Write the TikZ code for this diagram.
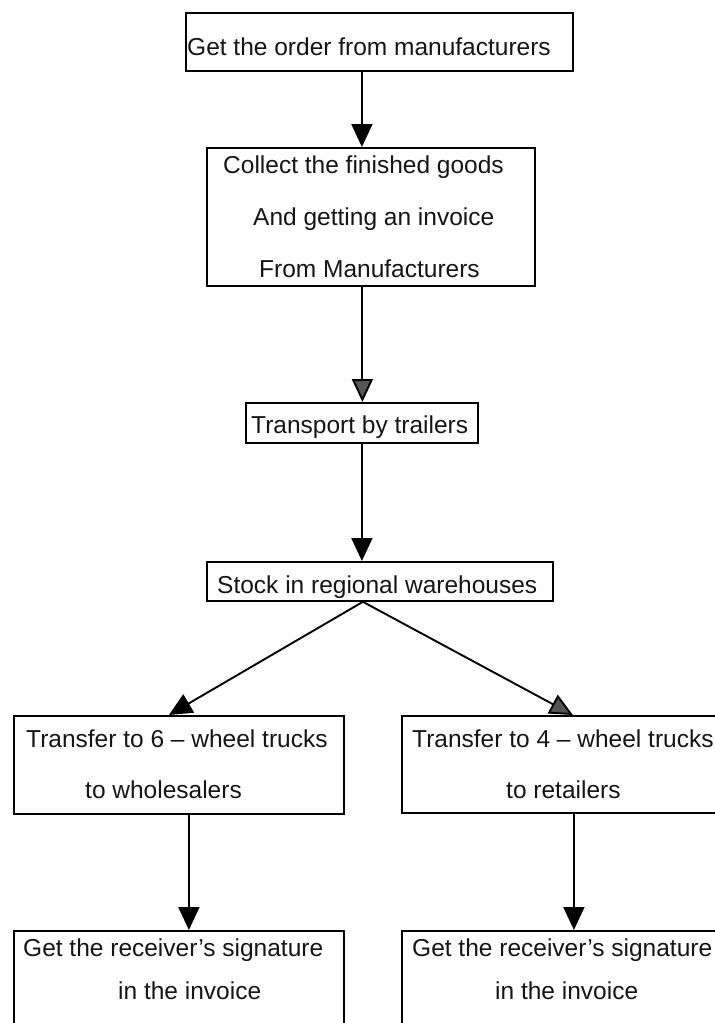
\documentclass[tikz,border=0pt]{standalone}
\usepackage{fontspec}
\setmainfont{Liberation Sans}
\usetikzlibrary{arrows.meta}
\definecolor{ink}{HTML}{151515}
\definecolor{tipgray}{HTML}{555555}
\begin{document}
\begin{tikzpicture}[x=1pt,y=-1pt,
  stepbox/.style={draw=black,line width=1.8pt,anchor=north west,inner sep=0pt,
    minimum width=#1},
  label/.style={anchor=base west,inner sep=0pt,text=ink,
    font=\fontsize{24.5}{29}\selectfont},
  flow/.style={line width=1.9pt,draw=black,
    -{Triangle[length=23pt,width=21pt]}},
  flowgray/.style={line width=1.9pt,draw=black,
    -{Triangle[length=23pt,width=21pt,fill=tipgray]}}]
\useasboundingbox (0,0) rectangle (715,1023);
\clip (0,0) rectangle (715,1023);

% boxes
\node[stepbox=387pt,minimum height=58pt]  (order)    at (185,12)  {};
\node[stepbox=328pt,minimum height=138pt] (collect)  at (206,147) {};
\node[stepbox=232pt,minimum height=40pt]  (trailers) at (245,402) {};
\node[stepbox=346pt,minimum height=39pt]  (stock)    at (206,561) {};
\node[stepbox=330pt,minimum height=98pt]  (six)      at (13,715)  {};
\node[stepbox=340pt,minimum height=97pt]  (four)     at (401,715) {};
\node[stepbox=330pt,minimum height=120pt] (signL)    at (13,930)  {};
\node[stepbox=340pt,minimum height=120pt] (signR)    at (401,930) {};

% texts
\node[label] (t-order)    at (187,55)  {Get the order from manufacturers};
\node[label] (t-collect1) at (223,173) {Collect the finished goods};
\node[label] (t-collect2) at (253,225) {And getting an invoice};
\node[label] (t-collect3) at (259,277) {From Manufacturers};
\node[label] (t-trailers) at (251,433) {Transport by trailers};
\node[label] (t-stock)    at (217,593) {Stock in regional warehouses};
\node[label] (t-six1)     at (26,747)  {Transfer to 6 -- wheel trucks};
\node[label] (t-six2)     at (85,798)  {to wholesalers};
\node[label] (t-four1)    at (412,747) {Transfer to 4 -- wheel trucks};
\node[label] (t-four2)    at (506,798) {to retailers};
\node[label] (t-signL1)   at (23,956)  {Get the receiver’s signature};
\node[label] (t-signL2)   at (118,999) {in the invoice};
\node[label] (t-signR1)   at (412,956) {Get the receiver’s signature};
\node[label] (t-signR2)   at (495,999) {in the invoice};

% connectors
\draw[flow]     ([xshift=-17.5pt]order.south)   -- ([xshift=-9pt]collect.north);
\draw[flowgray] ([xshift=-8.5pt]collect.south)  -- ([xshift=0.5pt]trailers.north);
\draw[flow]     ([xshift=0pt]trailers.south)    -- ([xshift=-18pt]stock.north);
\draw[flow]     ([xshift=-17pt]stock.south)     -- ([xshift=-10pt]six.north);
\draw[flowgray] ([xshift=-17pt]stock.south)     -- ([xshift=1pt]four.north);
\draw[flow]     ([xshift=10pt]six.south)        -- ([xshift=10pt]signL.north);
\draw[flow]     ([xshift=2pt]four.south)        -- ([xshift=2pt]signR.north);
\end{tikzpicture}
\end{document}
